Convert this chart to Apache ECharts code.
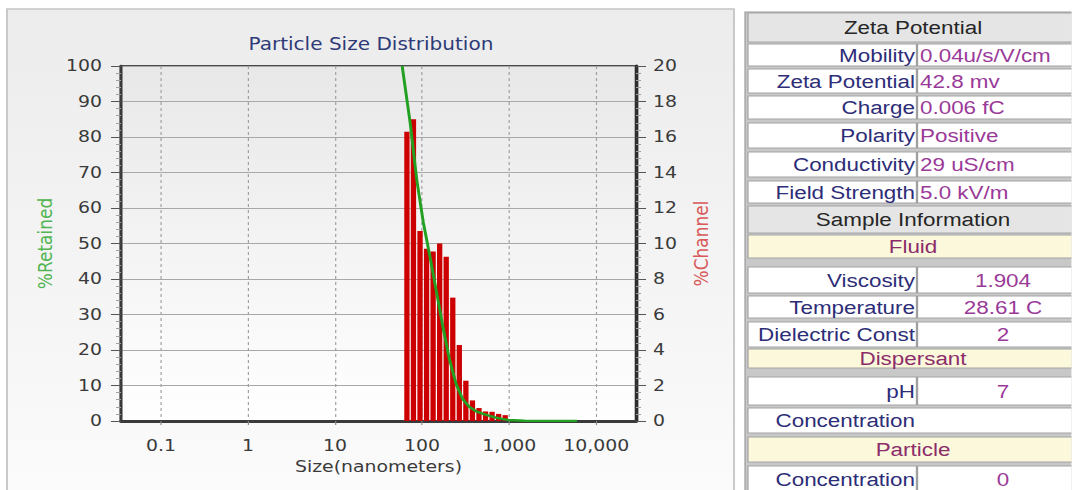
<!DOCTYPE html>
<html>
<head>
<meta charset="utf-8">
<script src="https://cdn.jsdelivr.net/npm/echarts@6/dist/echarts.min.js"></script>
<style>
html, body { margin: 0; padding: 0; background: #ffffff; overflow: hidden; }
#wrap { width: 1072px; height: 490px; overflow: hidden; position: relative; }
#chart { position: absolute; left: 0; top: 0; height: 490px; transform-origin: 0 0; }
</style>
</head>
<body>
<div id="wrap"><div id="chart"></div></div>
<script>
// ---------------- data ----------------
const xTickLabels = ['0.1', '1', '10', '100', '1,000', '10,000'];
const channelSizes = [66.9, 79.5, 94.6, 112.5, 133.7, 159.0, 189.1, 224.9, 267.4, 318.0, 378.2, 449.7, 534.8, 636.0, 756.3, 899.4];
const channelPct   = [16.3, 17.0, 10.7, 9.7, 9.55, 10.0, 9.25, 6.95, 4.28, 2.27, 1.16, 0.73, 0.54, 0.52, 0.40, 0.33];
const retainedSizes = [59, 72.9, 86.7, 103.1, 122.6, 145.8, 173.4, 206.2, 245.2, 291.6, 346.8, 412.4, 490.4, 583.2, 693.6, 824.8, 980.8, 1500, 6000];
const retainedPct   = [100, 84, 68, 56, 46.5, 36.5, 26.5, 17.3, 10.5, 6.2, 4.0, 2.8, 2.1, 1.5, 1.0, 0.6, 0.3, 0.1, 0];

const tableLabels = ['Zeta Potential', 'Mobility', 'Zeta Potential', 'Charge', 'Polarity', 'Conductivity', 'Field Strength',
  'Sample Information', 'Fluid', 'Viscosity', 'Temperature', 'Dielectric Const', 'Dispersant', 'pH', 'Concentration', 'Particle', 'Concentration'];
const tableValues = ['', '0.04u/s/V/cm', '42.8 mv', '0.006 fC', 'Positive', '29 uS/cm', '5.0 kV/m',
  '', '', '1.904', '28.61 C', '2', '', '7', '', '', '0'];
const tableKinds = ['head', 'pair', 'pair', 'pair', 'pair', 'pair', 'pair',
  'head', 'section', 'pairC', 'pairC', 'pairC', 'section', 'pairC', 'label', 'section', 'pairC'];

// ---------------- layout (final pixel coordinates) ----------------
const S = 1.18;                 // horizontal stretch of the reference picture
const sx = v => v / S;          // final px -> design px (horizontal)
const W = 1072 / S;
const rowTops    = [13, 44, 69, 96, 123, 152, 181, 206, 235, 267, 296, 322, 349, 377, 408, 437, 466];
const rowBottoms = [42, 66, 93, 119, 148, 177, 203, 233, 258, 293, 318, 347, 368, 405, 433, 462, 492];

const dom = document.getElementById('chart');
dom.style.width = W + 'px';
dom.style.transform = 'scaleX(' + S + ')';
const chart = echarts.init(dom, null, { renderer: 'svg', width: W, height: 490 });

// table graphics
const tableEls = [];
tableEls.push({ type: 'rect', z: -2, shape: { x: sx(745), y: 12, width: sx(1072 - 745) + 10, height: 480 },
  style: { fill: '#c8c8c8', stroke: '#9a9a9a', lineWidth: 1 } });
const fillFor = { head: '#e5e5e5', section: '#fbf8dc', pair: '#ffffff', pairC: '#ffffff', label: '#ffffff' };
tableLabels.forEach((lab, i) => {
  const kind = tableKinds[i];
  const t = rowTops[i], b = rowBottoms[i], cy = (t + b) / 2;
  tableEls.push({ type: 'rect', z: -1, shape: { x: sx(748), y: t, width: sx(1072 - 748) + 10, height: b - t },
    style: { fill: fillFor[kind], stroke: '#a3a3a3', lineWidth: 1 } });
  if (kind === 'pair' || kind === 'pairC') {
    tableEls.push({ type: 'line', z: 0, shape: { x1: sx(917), y1: t, x2: sx(917), y2: b },
      style: { stroke: '#a0a0a0', lineWidth: 2 } });
  }
  if (kind === 'head' || kind === 'section') {
    tableEls.push({ type: 'text', z: 1, x: sx(913), y: cy,
      style: { text: lab, fill: kind === 'head' ? '#262626' : '#8c2d6a', fontSize: 19, fontFamily: 'Liberation Sans',
        align: 'center', verticalAlign: 'middle' } });
  } else {
    tableEls.push({ type: 'text', z: 1, x: sx(915), y: cy,
      style: { text: lab, fill: '#2d2d78', fontSize: 19, fontFamily: 'Liberation Sans',
        align: 'right', verticalAlign: 'middle' } });
    if (tableValues[i] !== '') {
      tableEls.push({ type: 'text', z: 1, x: kind === 'pairC' ? sx(1003) : sx(920), y: cy,
        style: { text: tableValues[i], fill: '#9a3a98', fontSize: 19, fontFamily: 'Liberation Sans',
          align: kind === 'pairC' ? 'center' : 'left', verticalAlign: 'middle' } });
    }
  }
});

const option = {
  animation: false,
  backgroundColor: '#ffffff',
  textStyle: { fontFamily: 'DejaVu Sans' },
  title: {
    text: 'Particle Size Distribution', left: sx(365), top: 31, textAlign: 'center',
    textStyle: { fontSize: 17, fontWeight: 'normal', color: '#2e3a78', fontFamily: 'DejaVu Sans' }
  },
  graphic: [
    { type: 'rect', z: -10, shape: { x: sx(7), y: 9, width: sx(727), height: 490 },
      style: { fill: new echarts.graphic.LinearGradient(0, 0, 0, 1, [
        { offset: 0, color: '#ececec' }, { offset: 1, color: '#fbfbfb' }]), stroke: '#c4c4c4', lineWidth: 1.5 } }
  ].concat(tableEls),
  grid: {
    left: sx(121), top: 66, width: sx(515), height: 355, show: true,
    backgroundColor: new echarts.graphic.LinearGradient(0, 0, 0, 1, [
      { offset: 0, color: '#e8e8e8' }, { offset: 1, color: '#ffffff' }]),
    borderColor: '#4a4a4a', borderWidth: 2
  },
  xAxis: {
    type: 'log', logBase: 10, min: 0.0348, max: 28600,
    name: 'Size(nanometers)', nameLocation: 'middle', nameGap: 38,
    nameTextStyle: { fontSize: 16, color: '#3a3a3a' },
    axisLine: { show: true, onZero: false, lineStyle: { color: '#3a3a3a', width: 3 } },
    axisTick: { show: true, length: 4, lineStyle: { color: '#888' } },
    axisLabel: {
      fontSize: 16, color: '#3a3a3a', margin: 17, showMinLabel: false, showMaxLabel: false,
      formatter: v => { const k = Math.round(Math.log10(v)) + 1; return (k >= 0 && k < xTickLabels.length && Math.abs(Math.log10(v) - (k - 1)) < 1e-6) ? xTickLabels[k] : ''; }
    },
    splitLine: { show: true, lineStyle: { color: '#a0a0a0', type: [3, 3], width: 1 } }
  },
  yAxis: [
    {
      type: 'value', position: 'left', min: 0, max: 100, interval: 10,
      name: '%Retained', nameLocation: 'middle', nameGap: sx(66),
      nameTextStyle: { fontSize: 17, color: '#52b452' },
      axisLine: { show: true, lineStyle: { color: '#3a3a3a', width: 2.5 } },
      axisTick: { show: true, length: sx(10), lineStyle: { color: '#555' } },
      minorTick: { show: true, splitNumber: 5, length: sx(5), lineStyle: { color: '#a0a0a0' } },
      axisLabel: { fontSize: 16, color: '#3a3a3a', margin: sx(19) },
      splitLine: { show: true, lineStyle: { color: '#a8a8a8', width: 1 } }
    },
    {
      type: 'value', position: 'right', min: 0, max: 20, interval: 2,
      name: '%Channel', nameLocation: 'middle', nameGap: sx(55),
      nameTextStyle: { fontSize: 17, color: '#d85a5a' },
      axisLine: { show: true, lineStyle: { color: '#2e2e2e', width: 3 } },
      axisTick: { show: true, length: sx(10), lineStyle: { color: '#555' } },
      minorTick: { show: true, splitNumber: 5, length: sx(5), lineStyle: { color: '#a0a0a0' } },
      axisLabel: { fontSize: 16, color: '#3a3a3a', margin: sx(17) },
      splitLine: { show: false }
    }
  ],
  series: [
    {
      type: 'bar', name: '%Channel', xAxisIndex: 0, yAxisIndex: 1,
      data: channelSizes.map((s, i) => [s, channelPct[i]]),
      barWidth: sx(5.3), itemStyle: { color: '#cc0000' }, z: 2
    },
    {
      type: 'line', name: '%Retained', xAxisIndex: 0, yAxisIndex: 0,
      data: retainedSizes.map((s, i) => [s, retainedPct[i]]),
      symbol: 'none', lineStyle: { color: '#22a022', width: 2.5 }, z: 3
    }
  ]
};
chart.setOption(option);
</script>
</body>
</html>
